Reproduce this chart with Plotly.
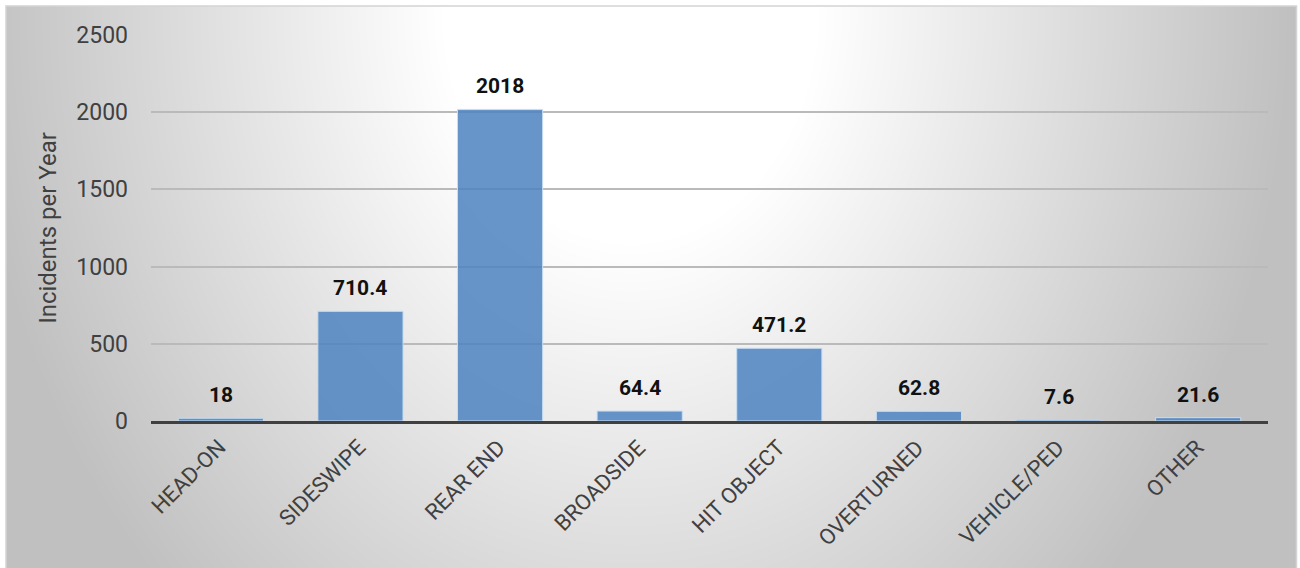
import base64
import struct
import zlib

import numpy as np
import plotly.graph_objects as go

# Collision types and yearly incident counts
categories = ["HEAD-ON", "SIDESWIPE", "REAR END", "BROADSIDE",
              "HIT OBJECT", "OVERTURNED", "VEHICLE/PED", "OTHER"]
incidents = [18, 710.4, 2018, 64.4, 471.2, 62.8, 7.6, 21.6]
value_labels = ["18", "710.4", "2018", "64.4", "471.2", "62.8", "7.6", "21.6"]
y_ticks = [0, 500, 1000, 1500, 2000, 2500]

W, H = 1300, 568
# plot area in pixels
L, R, T, B = 151, 1268, 35, 421


def gray_png_uri(arr):
    """Encode a 2-D uint8 array as a grayscale PNG data URI."""
    h, w = arr.shape
    raw = b"".join(b"\x00" + arr[i].tobytes() for i in range(h))

    def chunk(tag, data):
        body = tag + data
        return (struct.pack(">I", len(data)) + body
                + struct.pack(">I", zlib.crc32(body) & 0xFFFFFFFF))

    ihdr = struct.pack(">IIBBBBB", w, h, 8, 0, 0, 0, 0)
    png = (b"\x89PNG\r\n\x1a\n" + chunk(b"IHDR", ihdr)
           + chunk(b"IDAT", zlib.compress(raw, 9)) + chunk(b"IEND", b""))
    return "data:image/png;base64," + base64.b64encode(png).decode()


# radial light-grey backdrop of the chart frame
fx0, fy0, fx1, fy1 = 6, 6, 1297, 568
xs = np.arange(fx0, fx1, dtype=float)
ys = np.arange(fy0, fy1, dtype=float)
gx, gy = np.meshgrid(xs, ys)
d = np.sqrt(((gx - 630) / 660) ** 2 + ((gy - 10) / 820) ** 2)
f = np.clip((d - 0.28) / 0.72, 0, 1)
shade = (255 - 63 * f).round().astype(np.uint8)
backdrop = gray_png_uri(shade)


def px_to_paper_x(px):
    return (px - L) / (R - L)


def px_to_paper_y(py):
    return (B - py) / (B - T)


fig = go.Figure()
fig.add_trace(go.Bar(
    x=categories,
    y=incidents,
    width=0.61,
    marker=dict(color="rgba(78,131,192,0.86)",
                line=dict(color="rgba(200,222,242,1)", width=1)),
    hoverinfo="x+y",
))

# value labels above the bars
for cat, val, txt in zip(categories, incidents, value_labels):
    fig.add_annotation(x=cat, y=val, text=txt, showarrow=False,
                       yanchor="bottom", yshift=9,
                       font=dict(family="Roboto, sans-serif",
                                 size=21, color="#111111", weight="bold"))

# slanted category labels, their upper end next to each category centre
for cat in categories:
    fig.add_annotation(x=cat, xref="x", y=0, yref="paper", text=cat,
                       showarrow=False, textangle=-45,
                       xanchor="right", yanchor="top", xshift=13, yshift=-11,
                       font=dict(family="Roboto, sans-serif", size=22, color="#404040"))

fig.add_layout_image(dict(
    source=backdrop, xref="paper", yref="paper",
    x=px_to_paper_x(fx0), y=px_to_paper_y(fy0),
    sizex=(fx1 - fx0) / (R - L), sizey=(fy1 - fy0) / (B - T),
    xanchor="left", yanchor="top", sizing="stretch", layer="below",
))

# thin frame edge on top, left and right
fig.add_shape(type="rect", xref="paper", yref="paper",
              x0=px_to_paper_x(fx0), x1=px_to_paper_x(fx1 - 0.5),
              y0=px_to_paper_y(fy1 + 4), y1=px_to_paper_y(fy0),
              line=dict(color="#d4d4d4", width=1.5), layer="below")

fig.update_layout(
    width=W, height=H,
    margin=dict(l=L, r=W - R, t=T, b=H - B),
    paper_bgcolor="white",
    plot_bgcolor="rgba(0,0,0,0)",
    showlegend=False,
    font=dict(family="Roboto, sans-serif", color="#404040"),
    xaxis=dict(
        range=[-0.5, len(categories) - 0.5],
        autorange=False,
        showticklabels=False,
        showline=True, linecolor="#404040", linewidth=3,
        showgrid=False, ticks="",
    ),
    yaxis=dict(
        range=[0, 2500],
        autorange=False,
        tickvals=y_ticks,
        tickfont=dict(family="Roboto, sans-serif", size=23, color="#404040"),
        gridcolor="#bababa", gridwidth=1.6,
        zeroline=False, showline=False, ticks="",
        ticklabelstandoff=22,
        title=dict(text="Incidents per Year", standoff=12,
                   font=dict(family="Roboto, sans-serif", size=24, color="#404040")),
    ),
)

fig.write_html("out.html")
